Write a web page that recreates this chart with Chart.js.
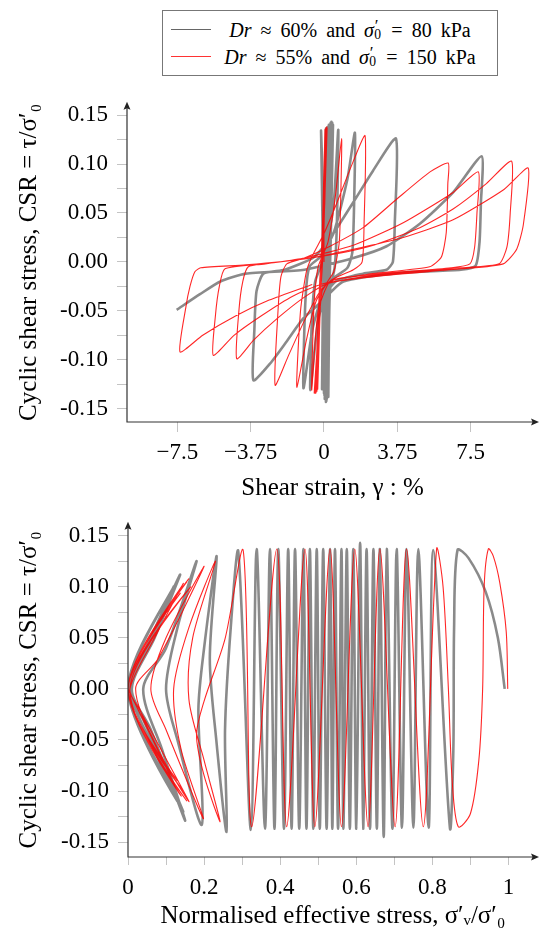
<!DOCTYPE html>
<html>
<head>
<meta charset="utf-8">
<script src="https://cdn.jsdelivr.net/npm/chart.js@4.4.0/dist/chart.umd.min.js"></script>
<style>
  body { margin: 0; background: #fff; width: 539px; height: 934px; position: relative; overflow: hidden; }
  canvas { position: absolute; left: 0; }
  #strainChart { top: 80px; }
  #stressChart { top: 500px; }
  #legend {
    position: absolute; left: 162px; top: 10px; width: 336px; height: 66px;
    border: 1px solid #777; box-sizing: border-box; background: #fff;
    font-family: 'Liberation Serif', serif; font-size: 20px; word-spacing: 4px;
    padding-top: 5px;
  }
  #legend .row { height: 27px; display: flex; align-items: center; }
  #legend .sw { width: 40px; margin-left: 8px; height: 0; }
  #legend .tx { flex: 1; text-align: center; white-space: nowrap; padding-right: 8px; }
  #legend .ps { display: inline-block; position: relative; width: 0.42em; height: 1em; line-height: 1; }
  #legend .ps .p { position: absolute; left: 0.04em; top: -0.02em; font-size: 0.85em; }
  #legend .ps .s { position: absolute; left: 0.02em; top: 0.78em; font-size: 0.68em; }
</style>
</head>
<body>
<div id="legend">
  <div class="row"><span class="sw" style="border-top: 1.5px solid #666"></span><span class="tx"><i>Dr</i> ≈ 60% and <i>σ</i><span class="ps"><span class="p">′</span><span class="s">0</span></span> = 80 kPa</span></div>
  <div class="row"><span class="sw" style="border-top: 1px solid #f33"></span><span class="tx"><i>Dr</i> ≈ 55% and <i>σ</i><span class="ps"><span class="p">′</span><span class="s">0</span></span> = 150 kPa</span></div>
</div>
<canvas id="strainChart" width="539" height="424"></canvas>
<canvas id="stressChart" width="539" height="434"></canvas>
<script>
// tick values and labels
const strainTicks = [-7.5, -3.75, 0, 3.75, 7.5]
const strainLabels = ['−7.5', '−3.75', '0', '3.75', '7.5']
const csrTicks = [-0.15, -0.125, -0.1, -0.075, -0.05, -0.025, 0, 0.025, 0.05, 0.075, 0.1, 0.125, 0.15]
const csrLabels = ['-0.15', '', '-0.10', '', '-0.05', '', '0.00', '', '0.05', '', '0.10', '', '0.15']
const stressTicks = [0, 0.1, 0.2, 0.3, 0.4, 0.5, 0.6, 0.7, 0.8, 0.9, 1]
const stressLabels = ['0', '', '0.2', '', '0.4', '', '0.6', '', '0.8', '', '1']

// Dr 60%, 80 kPa : shear strain (%) vs CSR
const grayStrain = [
  [0,0],[-0.05,0.07],[-0.15,0.134],[-0.06,0.02],[-0.06,-0.05],[-0.1,-0.13],
  [0.0,-0.02],[0.06,0.07],[0.1,0.136],[0.04,0.02],[-0.02,-0.05],[-0.04,-0.13],
  [0.04,-0.02],[0.1,0.06],[0.16,0.137],[0.08,0.02],[0.02,-0.06],[0.0,-0.134],
  [0.06,-0.02],[0.14,0.06],[0.2,0.138],[0.12,0.02],[0.04,-0.06],[0.02,-0.136],
  [0.1,-0.02],[0.18,0.06],[0.25,0.14],[0.16,0.02],[0.08,-0.06],[0.04,-0.14],
  [0.12,-0.02],[0.2,0.06],[0.28,0.14],[0.18,0.02],[0.1,-0.06],[0.06,-0.14],
  [0.16,-0.02],[0.26,0.06],[0.34,0.142],[0.24,0.02],[0.14,-0.06],[0.1,-0.143],
  [0.18,-0.02],[0.28,0.06],[0.38,0.143],[0.26,0.02],[0.16,-0.06],[0.12,-0.142],
  [0.2,-0.02],[0.32,0.06],[0.42,0.142],[0.3,0.02],[0.18,-0.06],[0.14,-0.14],
  [0.26,-0.02],[0.38,0.06],[0.46,0.14],[0.34,0.02],[0.24,-0.06],[0.22,-0.138],
  [0.3,-0.03],[0.55,-0.005],[0.66,0.04],[0.73,0.135],
  [0.5,0.06],[0.1,0.01],[-0.45,-0.02],[-0.62,-0.06],[-0.7,-0.131],
  [-0.3,-0.06],[0.3,-0.02],[1.2,-0.006],[1.45,0.01],[1.54,0.06],[1.58,0.132],
  [1.2,0.085],[0.5,0.03],[-0.2,0.005],[-0.75,-0.005],[-0.95,-0.04],[-1.05,-0.129],
  [-0.6,-0.07],[-0.2,-0.042],[0.6,-0.02],[2.0,-0.012],[3.2,-0.008],[3.52,0.0],[3.62,0.04],[3.68,0.126],
  [2.5,0.093],[1.5,0.061],[0.47,0.029],[-0.5,0.005],[-2.0,-0.008],[-3.1,-0.012],[-3.45,-0.03],[-3.56,-0.07],[-3.61,-0.121],
  [-2.76,-0.104],[-1.9,-0.081],[-1.07,-0.058],[-0.2,-0.042],[1.0,-0.02],[4.0,-0.011],[7.0,-0.008],[7.75,-0.004],[7.95,0.02],[8.02,0.06],[8.06,0.108],
  [6.6,0.071],[4.9,0.039],[3.2,0.016],[1.5,0.004],[-1.0,-0.008],[-4.0,-0.012],[-5.3,-0.02],[-6.34,-0.033],[-7.53,-0.049]
]

// Dr 55%, 150 kPa : shear strain (%) vs CSR
const redStrain = [
  [0,0],[0.0,0.07],[0.05,0.135],[-0.1,0.02],[-0.25,-0.06],[-0.32,-0.13],
  [-0.15,-0.02],[0.0,0.06],[0.08,0.136],[-0.08,0.02],[-0.25,-0.06],[-0.36,-0.132],
  [-0.2,-0.02],[-0.02,0.06],[0.1,0.137],[-0.06,0.02],[-0.28,-0.06],[-0.4,-0.133],
  [-0.2,-0.02],[0.0,0.06],[0.14,0.138],[-0.05,0.02],[-0.3,-0.06],[-0.45,-0.134],
  [-0.22,-0.02],[0.02,0.06],[0.16,0.137],[-0.04,0.02],[-0.3,-0.06],[-0.42,-0.134],
  [-0.18,-0.02],[0.04,0.06],[0.12,0.136],[-0.02,0.02],[-0.26,-0.06],[-0.5,-0.134],
  [-0.1,-0.03],[0.5,-0.01],[0.78,0.02],[0.86,0.07],[0.9,0.126],
  [0.6,0.07],[0.2,0.02],[-0.3,-0.005],[-0.5,-0.04],[-0.63,-0.131],
  [-0.3,-0.05],[0.3,-0.02],[1.5,-0.008],[1.95,0.0],[2.05,0.04],[2.1,0.129],
  [1.5,0.103],[0.65,0.06],[0.0,0.029],[-0.6,0.006],[-0.9,-0.01],[-1.2,-0.05],[-1.39,-0.128],
  [-0.9,-0.08],[-0.4,-0.04],[0.3,-0.02],[2.5,-0.012],[5.4,-0.005],[6.0,0.005],[6.25,0.03],[6.33,0.08],[6.35,0.101],
  [5.42,0.092],[3.71,0.064],[2.0,0.035],[0.31,0.016],[-1.0,0.004],[-1.9,-0.002],[-2.2,-0.015],[-2.35,-0.05],[-2.5,-0.126],
  [-1.8,-0.095],[-1.0,-0.06],[-0.2,-0.03],[0.5,-0.018],[3.0,-0.012],[6.5,-0.006],[7.46,-0.002],[7.7,0.015],[7.82,0.05],[7.89,0.092],
  [6.6,0.071],[4.05,0.04],[1.5,0.017],[-1.0,0.004],[-3.0,-0.002],[-3.87,-0.005],[-4.15,-0.02],[-4.35,-0.05],[-4.46,-0.099],
  [-3.6,-0.08],[-2.4,-0.058],[-1.0,-0.036],[0.2,-0.022],[3.0,-0.013],[7.0,-0.006],[8.95,-0.002],[9.35,0.015],[9.52,0.05],[9.59,0.103],
  [8.3,0.08],[6.6,0.054],[4.9,0.035],[2.35,0.016],[0.0,0.006],[-3.0,-0.002],[-5.06,-0.007],[-5.35,-0.025],[-5.55,-0.055],[-5.66,-0.0955],
  [-4.6,-0.075],[-3.2,-0.055],[-1.6,-0.035],[0.0,-0.022],[3.0,-0.014],[7.0,-0.007],[9.16,-0.002],[9.85,0.013],[10.19,0.038],[10.44,0.096],
  [9.2,0.074],[6.6,0.043],[4.05,0.025],[1.5,0.013],[-1.0,0.003],[-4.0,-0.003],[-6.3,-0.006],[-6.6,-0.01],[-6.85,-0.025],[-7.05,-0.045],[-7.36,-0.092],
  [-6.2,-0.075],[-4.5,-0.055],[-2.8,-0.039],[-0.6,-0.023]
]

// Dr 60%, 80 kPa : normalised effective stress vs CSR
const grayStress = [
  [0.99,0.0],[0.972,0.05],[0.94,0.095],[0.895,0.128],[0.866,0.136],[0.857,0.06],[0.855,-0.06],[0.846,-0.136],
  [0.802,0.136],[0.79,-0.136],[0.763,0.137],[0.75,-0.136],[0.732,0.137],[0.72,-0.136],[0.706,0.137],[0.695,-0.137],
  [0.68,0.137],[0.672,-0.145],[0.662,0.137],[0.654,-0.137],[0.645,0.137],[0.636,-0.137],[0.627,0.137],[0.618,-0.137],
  [0.61,0.143],[0.6,-0.137],[0.592,0.137],[0.583,-0.137],[0.575,0.137],[0.566,-0.137],[0.561,0.137],[0.552,-0.137],
  [0.544,0.137],[0.537,-0.137],[0.531,0.137],[0.522,-0.137],[0.513,0.137],[0.504,-0.137],[0.496,0.137],[0.487,-0.137],
  [0.478,0.137],[0.469,-0.137],[0.461,0.137],[0.45,-0.137],[0.439,0.137],[0.43,-0.137],[0.421,0.137],[0.41,-0.137],
  [0.395,0.137],[0.385,-0.137],[0.373,0.137],[0.36,-0.137],[0.338,0.137],[0.323,-0.138],[0.29,0.134],
  [0.27,0.06],[0.255,-0.04],[0.259,-0.14],[0.232,-0.05],[0.215,0.03],[0.233,0.13],[0.2,0.04],[0.185,-0.02],[0.194,-0.133],
  [0.13,-0.05],[0.1,0.0],[0.13,0.06],[0.18,0.125],[0.1,0.04],[0.04,0.0],[0.09,-0.06],[0.15,-0.129],
  [0.06,-0.04],[0.01,0.0],[0.07,0.05],[0.137,0.112],[0.05,0.04],[0.005,0.0],[0.07,-0.06],[0.145,-0.12],
  [0.04,-0.03],[0.0,0.0],[0.06,0.05],[0.12,0.1],[0.0,0.0],[0.13,-0.11],[0.0,0.0],[0.11,0.092],[0.0,0.0],
  [0.12,-0.1],[0.0,-0.005]
]

// Dr 55%, 150 kPa : normalised effective stress vs CSR
const redStress = [
  [0.998,0.0],[0.994,0.056],[0.977,0.104],[0.96,0.13],[0.947,0.137],[0.936,0.1],[0.932,0.0],[0.922,-0.07],[0.9,-0.122],[0.868,-0.135],
  [0.852,-0.09],[0.842,0.0],[0.828,0.1],[0.811,0.137],
  [0.776,-0.135],[0.732,0.137],[0.702,-0.135],[0.662,0.137],[0.631,-0.135],[0.596,0.137],[0.561,-0.135],[0.531,0.137],
  [0.491,-0.135],[0.465,0.137],[0.417,-0.135],[0.391,0.137],[0.325,-0.135],[0.303,0.135],
  [0.255,0.049],[0.2,-0.012],[0.18,-0.045],[0.2,-0.085],[0.242,-0.13],[0.2,-0.07],[0.16,-0.01],[0.17,0.05],[0.23,0.125],
  [0.16,0.06],[0.12,0.0],[0.14,-0.06],[0.198,-0.127],[0.1,-0.04],[0.06,0.0],[0.1,0.05],[0.2,0.12],
  [0.08,0.03],[0.02,0.0],[0.08,-0.06],[0.16,-0.11],[0.03,-0.02],[0.005,0.0],[0.07,0.05],[0.145,0.103],
  [0.0,0.0],[0.132,-0.1],[0.0,0.0],[0.165,0.1],[0.005,0.0],[0.14,-0.105],[0.0,0.0],[0.12,0.085],
  [0.0,0.0],[0.115,-0.09],[0.0,0.0],[0.155,0.105],[0.0,0.0],[0.13,-0.09],[0.0,0.0],[0.138,0.094],
  [0.0,0.0],[0.155,-0.11],[0.0,0.0],[0.128,0.09],[0.0,0.0],[0.145,-0.1],[0.0,0.0],[0.16,0.108],
  [0.0,0.0],[0.125,-0.096],[0.0,0.0]
]

const grayColor = 'rgba(125,125,125,0.9)'
const redColor = 'rgba(255,0,0,0.85)'
const tickColor = '#c4c4c4'
const fontFamily = "'Liberation Serif', 'DejaVu Serif', serif"

Chart.defaults.font.family = fontFamily
Chart.defaults.color = '#000'

function pts(arr) {
    return arr.map(p => ({x: p[0], y: p[1]}))
}

//axis lines with arrow heads, like the pgfplots "axis lines = left"
const axisArrows = {
    id: 'axisArrows',
    afterDraw(chart) {
        const {ctx, chartArea: a} = chart
        ctx.save()
        ctx.strokeStyle = '#333'
        ctx.fillStyle = '#222'
        ctx.lineWidth = 1.2
        ctx.beginPath()
        ctx.moveTo(a.left, a.top + 4)
        ctx.lineTo(a.left, a.bottom)
        ctx.lineTo(a.right - 4, a.bottom)
        ctx.stroke()
        ctx.beginPath()
        ctx.moveTo(a.left, a.top - 1)
        ctx.lineTo(a.left - 3.5, a.top + 7)
        ctx.lineTo(a.left, a.top + 5.5)
        ctx.lineTo(a.left + 3.5, a.top + 7)
        ctx.closePath()
        ctx.fill()
        ctx.beginPath()
        ctx.moveTo(a.right + 1, a.bottom)
        ctx.lineTo(a.right - 7, a.bottom - 3.5)
        ctx.lineTo(a.right - 5.5, a.bottom)
        ctx.lineTo(a.right - 7, a.bottom + 3.5)
        ctx.closePath()
        ctx.fill()
        ctx.restore()
    }
}

function xAxis(min, max, ticks, labels, title, height, tickLen, pad, titlePad) {
    return {
        type: 'linear', min: min, max: max,
        afterBuildTicks: s => { s.ticks = ticks.map(v => ({value: v})) },
        afterFit: s => { s.height = height },
        grid: {display: true, drawOnChartArea: false, drawTicks: true, tickLength: tickLen, color: tickColor, lineWidth: 1},
        border: {display: false},
        ticks: {autoSkip: false, maxRotation: 0, padding: pad, font: {size: 23}, color: '#000', callback: (v, i) => labels[i]},
        title: {display: true, text: title, font: {size: 25}, color: '#000', padding: {top: 0, bottom: titlePad}}
    }
}

function yAxis(min, max, width, titlePad) {
    return {
        type: 'linear', min: min, max: max,
        afterBuildTicks: s => { s.ticks = csrTicks.map(v => ({value: v})) },
        afterFit: s => { s.width = width },
        grid: {display: true, drawOnChartArea: false, drawTicks: true, tickLength: 10, color: tickColor, lineWidth: 1},
        border: {display: false},
        ticks: {autoSkip: false, padding: 9, font: {size: 23}, color: '#000', callback: (v, i) => csrLabels[i]},
        title: {display: true, text: 'Cyclic shear stress, CSR = τ/σ′₀', font: {size: 25}, color: '#000', padding: {top: titlePad, bottom: 0}}
    }
}

function series(grayData, redData, tension) {
    return [
        {label: 'Dr ≈ 55% and σ′₀ = 150 kPa', data: pts(redData), showLine: true, borderColor: redColor, borderWidth: 1.1,
         pointRadius: 0, tension: tension, order: 1},
        {label: 'Dr ≈ 60% and σ′₀ = 80 kPa', data: pts(grayData), showLine: true, borderColor: grayColor, borderWidth: 2.6,
         pointRadius: 0, tension: tension, order: 2}
    ]
}

let strainChart = new Chart(document.getElementById('strainChart'), {
    type: 'scatter',
    data: {datasets: series(grayStrain, redStrain, 0.2)},
    options: {
        responsive: false,
        animation: false,
        layout: {padding: {top: 5, right: 1, left: 0, bottom: 0}},
        plugins: {legend: {display: false}, tooltip: {enabled: false}},
        scales: {
            x: xAxis(-10.07, 10.94, strainTicks, strainLabels, 'Shear strain, γ : %', 82, 10, 7, 1),
            y: yAxis(-0.1636, 0.1626, 127, 14)
        }
    },
    plugins: [axisArrows]
})

let stressChart = new Chart(document.getElementById('stressChart'), {
    type: 'scatter',
    data: {datasets: series(grayStress, redStress, 0.3)},
    options: {
        responsive: false,
        animation: false,
        layout: {padding: {top: 20, right: 1, left: 0, bottom: 0}},
        plugins: {legend: {display: false}, tooltip: {enabled: false}},
        scales: {
            x: xAxis(0, 1.0775, stressTicks, stressLabels, 'Normalised effective stress, σ′ᵥ/σ′₀', 77, 8, 9, 3),
            y: yAxis(-0.1646, 0.1626, 128, 14)
        }
    },
    plugins: [axisArrows]
})
</script>
</body>
</html>
